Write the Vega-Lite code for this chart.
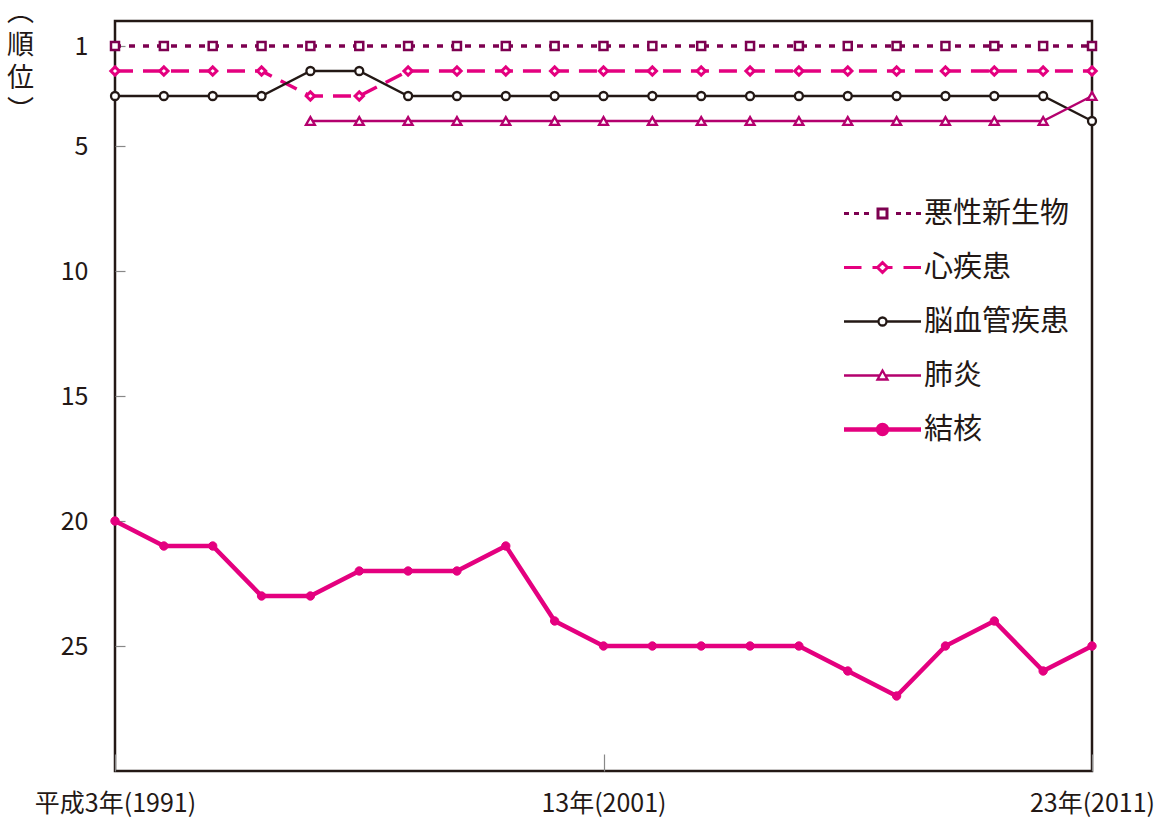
{
  "$schema": "https://vega.github.io/schema/vega-lite/v6.json",
  "width": 977,
  "height": 750,
  "autosize": {"type": "none"},
  "padding": {"left": 115, "top": 21, "right": 71, "bottom": 48},
  "background": "white",
  "config": {
    "view": {"stroke": "#231815", "strokeWidth": 2.5},
    "font": "Noto Sans CJK JP",
    "axis": {"grid": false, "domain": false, "labelColor": "#231815", "titleColor": "#231815", "labelFont": "Noto Sans CJK JP", "titleFont": "Noto Sans CJK JP"}
  },
  "data": {"values": [
    {"year": 1991, "series": "悪性新生物", "rank": 1}, {"year": 1992, "series": "悪性新生物", "rank": 1}, {"year": 1993, "series": "悪性新生物", "rank": 1}, {"year": 1994, "series": "悪性新生物", "rank": 1}, {"year": 1995, "series": "悪性新生物", "rank": 1}, {"year": 1996, "series": "悪性新生物", "rank": 1}, {"year": 1997, "series": "悪性新生物", "rank": 1}, {"year": 1998, "series": "悪性新生物", "rank": 1}, {"year": 1999, "series": "悪性新生物", "rank": 1}, {"year": 2000, "series": "悪性新生物", "rank": 1}, {"year": 2001, "series": "悪性新生物", "rank": 1}, {"year": 2002, "series": "悪性新生物", "rank": 1}, {"year": 2003, "series": "悪性新生物", "rank": 1}, {"year": 2004, "series": "悪性新生物", "rank": 1}, {"year": 2005, "series": "悪性新生物", "rank": 1}, {"year": 2006, "series": "悪性新生物", "rank": 1}, {"year": 2007, "series": "悪性新生物", "rank": 1}, {"year": 2008, "series": "悪性新生物", "rank": 1}, {"year": 2009, "series": "悪性新生物", "rank": 1}, {"year": 2010, "series": "悪性新生物", "rank": 1}, {"year": 2011, "series": "悪性新生物", "rank": 1},
    {"year": 1991, "series": "心疾患", "rank": 2}, {"year": 1992, "series": "心疾患", "rank": 2}, {"year": 1993, "series": "心疾患", "rank": 2}, {"year": 1994, "series": "心疾患", "rank": 2}, {"year": 1995, "series": "心疾患", "rank": 3}, {"year": 1996, "series": "心疾患", "rank": 3}, {"year": 1997, "series": "心疾患", "rank": 2}, {"year": 1998, "series": "心疾患", "rank": 2}, {"year": 1999, "series": "心疾患", "rank": 2}, {"year": 2000, "series": "心疾患", "rank": 2}, {"year": 2001, "series": "心疾患", "rank": 2}, {"year": 2002, "series": "心疾患", "rank": 2}, {"year": 2003, "series": "心疾患", "rank": 2}, {"year": 2004, "series": "心疾患", "rank": 2}, {"year": 2005, "series": "心疾患", "rank": 2}, {"year": 2006, "series": "心疾患", "rank": 2}, {"year": 2007, "series": "心疾患", "rank": 2}, {"year": 2008, "series": "心疾患", "rank": 2}, {"year": 2009, "series": "心疾患", "rank": 2}, {"year": 2010, "series": "心疾患", "rank": 2}, {"year": 2011, "series": "心疾患", "rank": 2},
    {"year": 1991, "series": "脳血管疾患", "rank": 3}, {"year": 1992, "series": "脳血管疾患", "rank": 3}, {"year": 1993, "series": "脳血管疾患", "rank": 3}, {"year": 1994, "series": "脳血管疾患", "rank": 3}, {"year": 1995, "series": "脳血管疾患", "rank": 2}, {"year": 1996, "series": "脳血管疾患", "rank": 2}, {"year": 1997, "series": "脳血管疾患", "rank": 3}, {"year": 1998, "series": "脳血管疾患", "rank": 3}, {"year": 1999, "series": "脳血管疾患", "rank": 3}, {"year": 2000, "series": "脳血管疾患", "rank": 3}, {"year": 2001, "series": "脳血管疾患", "rank": 3}, {"year": 2002, "series": "脳血管疾患", "rank": 3}, {"year": 2003, "series": "脳血管疾患", "rank": 3}, {"year": 2004, "series": "脳血管疾患", "rank": 3}, {"year": 2005, "series": "脳血管疾患", "rank": 3}, {"year": 2006, "series": "脳血管疾患", "rank": 3}, {"year": 2007, "series": "脳血管疾患", "rank": 3}, {"year": 2008, "series": "脳血管疾患", "rank": 3}, {"year": 2009, "series": "脳血管疾患", "rank": 3}, {"year": 2010, "series": "脳血管疾患", "rank": 3}, {"year": 2011, "series": "脳血管疾患", "rank": 4},
    {"year": 1995, "series": "肺炎", "rank": 4}, {"year": 1996, "series": "肺炎", "rank": 4}, {"year": 1997, "series": "肺炎", "rank": 4}, {"year": 1998, "series": "肺炎", "rank": 4}, {"year": 1999, "series": "肺炎", "rank": 4}, {"year": 2000, "series": "肺炎", "rank": 4}, {"year": 2001, "series": "肺炎", "rank": 4}, {"year": 2002, "series": "肺炎", "rank": 4}, {"year": 2003, "series": "肺炎", "rank": 4}, {"year": 2004, "series": "肺炎", "rank": 4}, {"year": 2005, "series": "肺炎", "rank": 4}, {"year": 2006, "series": "肺炎", "rank": 4}, {"year": 2007, "series": "肺炎", "rank": 4}, {"year": 2008, "series": "肺炎", "rank": 4}, {"year": 2009, "series": "肺炎", "rank": 4}, {"year": 2010, "series": "肺炎", "rank": 4}, {"year": 2011, "series": "肺炎", "rank": 3},
    {"year": 1991, "series": "結核", "rank": 20}, {"year": 1992, "series": "結核", "rank": 21}, {"year": 1993, "series": "結核", "rank": 21}, {"year": 1994, "series": "結核", "rank": 23}, {"year": 1995, "series": "結核", "rank": 23}, {"year": 1996, "series": "結核", "rank": 22}, {"year": 1997, "series": "結核", "rank": 22}, {"year": 1998, "series": "結核", "rank": 22}, {"year": 1999, "series": "結核", "rank": 21}, {"year": 2000, "series": "結核", "rank": 24}, {"year": 2001, "series": "結核", "rank": 25}, {"year": 2002, "series": "結核", "rank": 25}, {"year": 2003, "series": "結核", "rank": 25}, {"year": 2004, "series": "結核", "rank": 25}, {"year": 2005, "series": "結核", "rank": 25}, {"year": 2006, "series": "結核", "rank": 26}, {"year": 2007, "series": "結核", "rank": 27}, {"year": 2008, "series": "結核", "rank": 25}, {"year": 2009, "series": "結核", "rank": 24}, {"year": 2010, "series": "結核", "rank": 26}, {"year": 2011, "series": "結核", "rank": 25}
  ]},
  "encoding": {
    "x": {"field": "year", "type": "quantitative", "scale": {"domain": [1991, 2011], "nice": false, "zero": false},
      "axis": {"title": null, "values": [1991, 2001, 2011], "labelExpr": "datum.value == 1991 ? '平成3年(1991)' : datum.value == 2001 ? '13年(2001)' : '23年(2011)'", "labelFontSize": 25, "labelPadding": 37, "tickSize": -17, "tickColor": "#888888", "tickWidth": 1.2, "labelFlush": false, "labelOverlap": false}},
    "y": {"field": "rank", "type": "quantitative", "scale": {"domain": [0, 30], "reverse": true, "nice": false, "zero": false},
      "axis": {"title": ["︵", "順", "位", "︶"], "titleAngle": 0, "titleX": -95, "titleY": -22, "titleAlign": "center", "titleBaseline": "top", "titleFontSize": 27, "titleFontWeight": "normal", "titleLineHeight": 33,
        "values": [1, 5, 10, 15, 20, 25], "labelFontSize": 25, "labelPadding": 37, "tickSize": -10, "tickColor": "#888888", "tickWidth": 1.2}}
  },
  "layer": [
    {"transform": [{"filter": "datum.series == '悪性新生物'"}], "mark": {"type": "line", "stroke": "#7d0050", "strokeWidth": 3.5, "strokeDash": [6, 8], "strokeCap": "butt"}},
    {"transform": [{"filter": "datum.series == '心疾患'"}], "mark": {"type": "line", "stroke": "#e4007f", "strokeWidth": 3.5, "strokeDash": [18, 10], "strokeCap": "butt"}},
    {"transform": [{"filter": "datum.series == '脳血管疾患'"}], "mark": {"type": "line", "stroke": "#231815", "strokeWidth": 2.3}},
    {"transform": [{"filter": "datum.series == '肺炎'"}], "mark": {"type": "line", "stroke": "#b4006e", "strokeWidth": 2.3}},
    {"transform": [{"filter": "datum.series == '結核'"}], "mark": {"type": "line", "stroke": "#e4007f", "strokeWidth": 4.5}},
    {
      "transform": [{"filter": "datum.series == '悪性新生物'"}],
      "mark": {"type": "point", "shape": "square", "size": 64, "filled": false, "fill": "white", "stroke": "#7d0050", "strokeWidth": 2.5, "opacity": 1}
    },
    {
      "transform": [{"filter": "datum.series == '心疾患'"}],
      "mark": {"type": "point", "shape": "diamond", "size": 70, "filled": false, "fill": "white", "stroke": "#e4007f", "strokeWidth": 3, "opacity": 1}
    },
    {
      "transform": [{"filter": "datum.series == '脳血管疾患'"}],
      "mark": {"type": "point", "shape": "circle", "size": 64, "filled": false, "fill": "white", "stroke": "#231815", "strokeWidth": 2.3, "opacity": 1}
    },
    {
      "transform": [{"filter": "datum.series == '肺炎'"}],
      "mark": {"type": "point", "shape": "triangle-up", "size": 80, "filled": false, "fill": "white", "stroke": "#b4006e", "strokeWidth": 2.3, "opacity": 1}
    },
    {
      "transform": [{"filter": "datum.series == '結核'"}],
      "mark": {"type": "point", "shape": "circle", "size": 70, "filled": true, "fill": "#e4007f", "stroke": "#e4007f", "strokeWidth": 1, "opacity": 1}
    },
    {
      "transform": [{"filter": "false"}],
      "mark": {"type": "point", "filled": true, "opacity": 1, "size": 400},
      "encoding": {
        "stroke": {"field": "series", "type": "nominal", "scale": {"domain": ["悪性新生物", "心疾患", "脳血管疾患", "肺炎", "結核"], "range": ["#7d0050", "#e4007f", "#231815", "#b4006e", "#e4007f"]},
          "legend": {"orient": "none", "legendX": 753, "legendY": 178, "title": null, "labelFontSize": 29, "labelFont": "Noto Sans CJK JP", "labelColor": "#231815", "labelOffset": 27, "symbolSize": 400, "rowPadding": 24, "padding": 0, "symbolOpacity": 1}},
        "fill": {"field": "series", "type": "nominal", "scale": {"domain": ["悪性新生物", "心疾患", "脳血管疾患", "肺炎", "結核"], "range": ["white", "white", "white", "white", "#e4007f"]}},
        "shape": {"field": "series", "type": "nominal", "scale": {"domain": ["悪性新生物", "心疾患", "脳血管疾患", "肺炎", "結核"], "range": [
          "M-3.85,0H-3.35M-2.85,0H-2.35M-1.85,0H-1.35M1.35,0H1.85M2.35,0H2.85M3.35,0H3.85M-0.45,-0.45H0.45V0.45H-0.45Z",
          "M-3.85,0H-2.1M-1,0H-0.5M0.5,0H1M2.1,0H3.85M0,-0.5L0.5,0L0,0.5L-0.5,0Z",
          "M-3.85,0H-0.4M0.4,0H3.85M0.4,0A0.4,0.4 0 1,1 -0.4,0A0.4,0.4 0 1,1 0.4,0Z",
          "M-3.85,0H-0.28M0.28,0H3.85M0,-0.5L0.5,0.4L-0.5,0.4Z",
          "M-3.85,0H3.85M0.45,0A0.45,0.45 0 1,1 -0.45,0A0.45,0.45 0 1,1 0.45,0Z"
        ]}},
        "strokeWidth": {"field": "series", "type": "nominal", "scale": {"type": "ordinal", "domain": ["悪性新生物", "心疾患", "脳血管疾患", "肺炎", "結核"], "range": [3, 3, 2.3, 2.3, 4.5]}}
      }
    }
  ]
}
